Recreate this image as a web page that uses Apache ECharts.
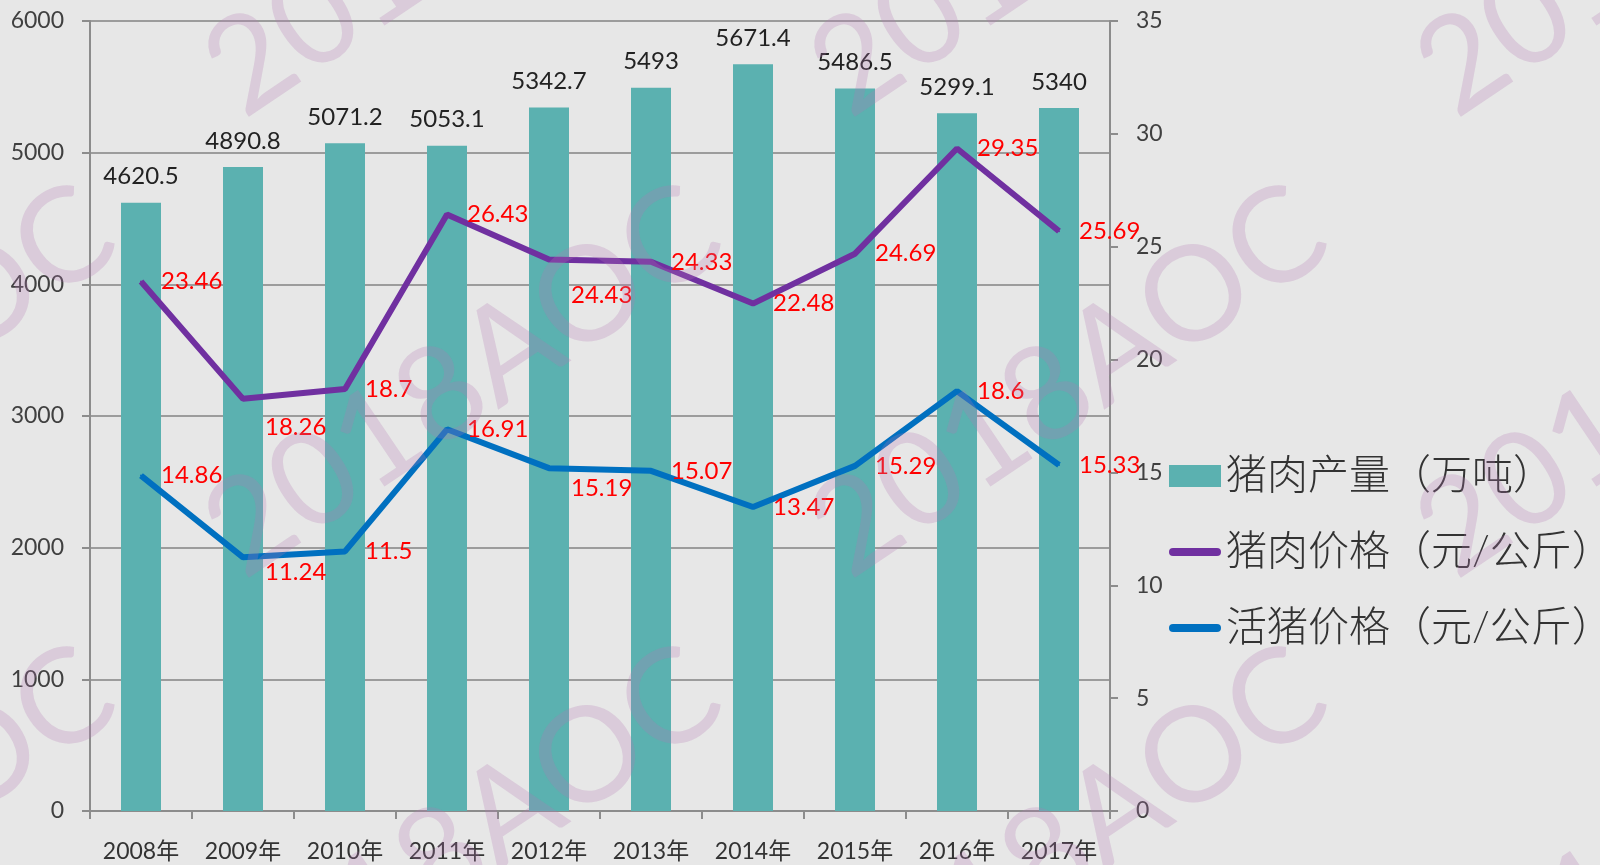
<!DOCTYPE html>
<html>
<head>
<meta charset="utf-8">
<script src="https://cdn.jsdelivr.net/npm/echarts@6/dist/echarts.min.js"></script>
<style>
  html, body { margin: 0; padding: 0; background: #e7e7e7; }
  #main { width: 1600px; height: 865px; }
</style>
</head>
<body>
<div id="main"></div>
<script>
// 数据
var years = ['2008年', '2009年', '2010年', '2011年', '2012年', '2013年', '2014年', '2015年', '2016年', '2017年'];
var porkOutput = [4620.5, 4890.8, 5071.2, 5053.1, 5342.7, 5493, 5671.4, 5486.5, 5299.1, 5340];
var porkPrice = [23.46, 18.26, 18.7, 26.43, 24.43, 24.33, 22.48, 24.69, 29.35, 25.69];
var hogPrice = [14.86, 11.24, 11.5, 16.91, 15.19, 15.07, 13.47, 15.29, 18.6, 15.33];
var seriesNames = ['猪肉产量（万吨）', '猪肉价格（元/公斤）', '活猪价格（元/公斤）'];

// 个别标签往下挪一点
var porkLabelOffset = { 1: [2, 28], 4: [2, 36] };
var hogLabelOffset = { 1: [2, 15], 4: [2, 20] };

var font = 'Lato, "Noto Sans CJK SC", sans-serif';

function lineData(values, offsets) {
  return values.map(function (v, i) {
    if (offsets[i]) {
      return { value: v, label: { offset: offsets[i] } };
    }
    return v;
  });
}

// 水印
var watermark = [];
for (var k = -1; k <= 2; k++) {
  for (var m = -1; m <= 1; m++) {
    watermark.push({
      type: 'text',
      x: 220 + k * 606,
      y: 546 + m * 461,
      rotation: 34 * Math.PI / 180,
      z: 100,
      silent: true,
      style: {
        text: '2018AOC',
        fontSize: 132,
        fontFamily: font,
        fill: 'rgba(180, 120, 180, 0.25)',
        verticalAlign: 'middle'
      }
    });
  }
}

var myChart = echarts.init(document.getElementById('main'));

var option = {
  backgroundColor: '#e7e7e7',
  animation: false,
  textStyle: { fontFamily: font },
  grid: { left: 90, right: 490, top: 21, bottom: 54 },
  legend: {
    orient: 'vertical',
    left: 1164,
    top: 450,
    itemWidth: 52,
    itemHeight: 22,
    itemGap: 34,
    textStyle: { fontSize: 41, lineHeight: 42, color: '#333', fontWeight: 300, fontFamily: font },
    data: [
      { name: seriesNames[0], icon: 'rect' },
      { name: seriesNames[1], icon: 'path://M4,0 L48,0 A4,4 0 0 1 48,8 L4,8 A4,4 0 0 1 4,0 Z' },
      { name: seriesNames[2], icon: 'path://M4,0 L48,0 A4,4 0 0 1 48,8 L4,8 A4,4 0 0 1 4,0 Z' }
    ]
  },
  xAxis: {
    type: 'category',
    data: years,
    axisLine: { lineStyle: { color: '#8c8c8c', width: 2 } },
    axisTick: { show: true, length: 8, lineStyle: { color: '#8c8c8c', width: 2 } },
    axisLabel: { fontSize: 23, color: '#333', margin: 29, fontFamily: font }
  },
  yAxis: [
    {
      type: 'value',
      min: 0,
      max: 6000,
      interval: 1000,
      axisLine: { show: true, lineStyle: { color: '#8c8c8c', width: 2 } },
      axisTick: { show: true, length: 8, lineStyle: { color: '#8c8c8c', width: 2 } },
      splitLine: { lineStyle: { color: '#9c9c9c', width: 2 } },
      axisLabel: {
        fontSize: 23, color: '#404040', margin: 26, fontFamily: font,
        formatter: function (v) { return String(v); }
      }
    },
    {
      type: 'value',
      min: 0,
      max: 35,
      interval: 5,
      position: 'right',
      axisLine: { show: true, lineStyle: { color: '#8c8c8c', width: 2 } },
      axisTick: { show: true, length: 8, lineStyle: { color: '#8c8c8c', width: 2 } },
      splitLine: { show: false },
      axisLabel: { fontSize: 23, color: '#404040', margin: 26, fontFamily: font }
    }
  ],
  graphic: watermark,
  series: [
    {
      name: seriesNames[0],
      type: 'bar',
      barWidth: 40,
      data: porkOutput,
      itemStyle: { color: '#5bb1b0' },
      label: {
        show: true,
        position: 'top',
        distance: 14,
        fontSize: 24,
        color: '#222',
        fontFamily: font
      }
    },
    {
      name: seriesNames[1],
      type: 'line',
      yAxisIndex: 1,
      data: lineData(porkPrice, porkLabelOffset),
      symbol: 'circle',
      symbolSize: 2,
      itemStyle: { color: '#7030a0' },
      lineStyle: { color: '#7030a0', width: 6 },
      z: 5,
      label: {
        show: true,
        position: 'right',
        distance: 19,
        fontSize: 24,
        color: '#ff0000',
        fontFamily: font
      }
    },
    {
      name: seriesNames[2],
      type: 'line',
      yAxisIndex: 1,
      data: lineData(hogPrice, hogLabelOffset),
      symbol: 'circle',
      symbolSize: 2,
      itemStyle: { color: '#0070c0' },
      lineStyle: { color: '#0070c0', width: 6 },
      z: 5,
      label: {
        show: true,
        position: 'right',
        distance: 19,
        fontSize: 24,
        color: '#ff0000',
        fontFamily: font
      }
    }
  ]
};

myChart.setOption(option);
</script>
</body>
</html>
